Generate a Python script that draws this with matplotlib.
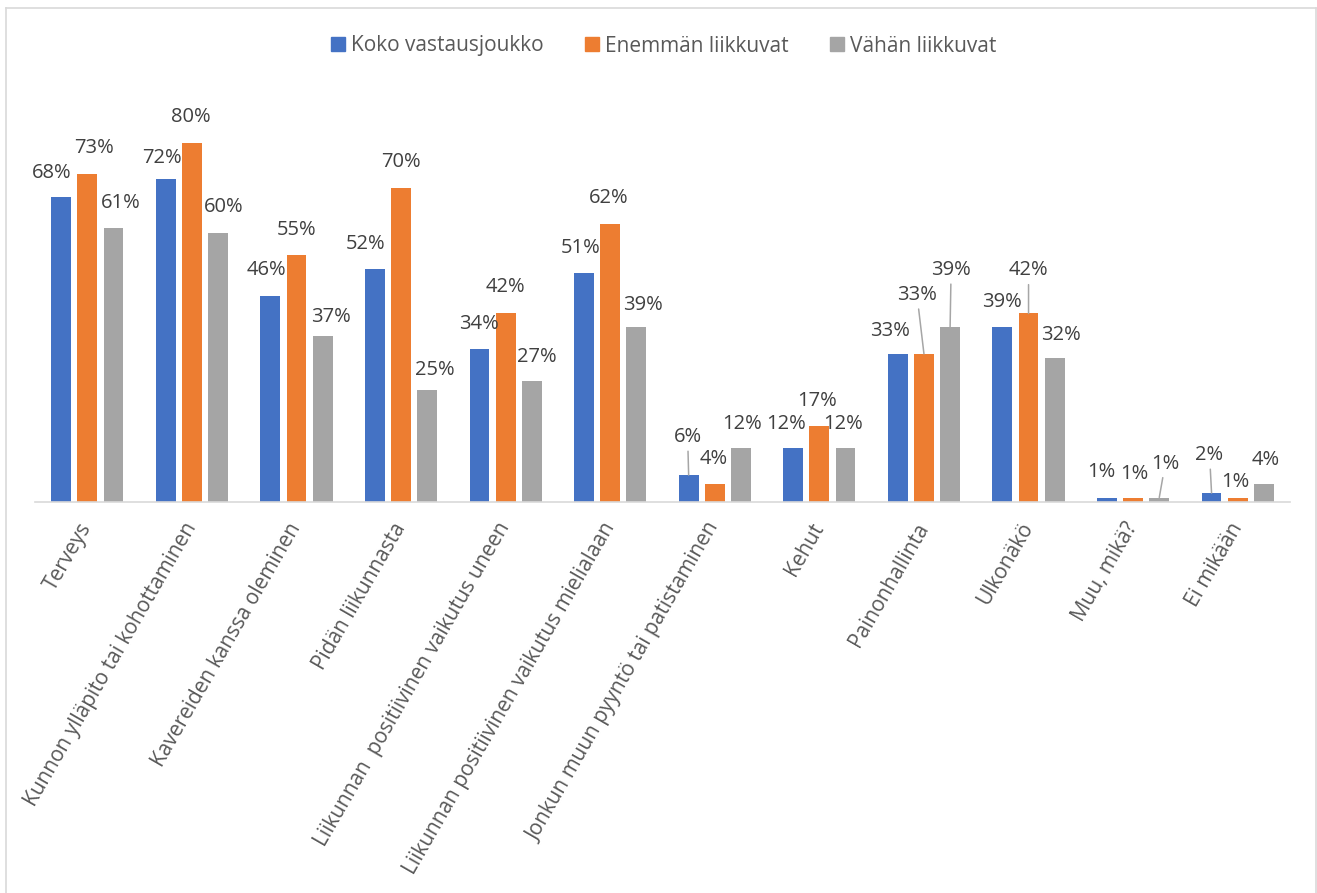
import matplotlib
matplotlib.use("Agg")
import matplotlib.pyplot as plt
import numpy as np
from matplotlib.lines import Line2D
from matplotlib.patches import Patch

categories = [
    "Terveys",
    "Kunnon ylläpito tai kohottaminen",
    "Kavereiden kanssa oleminen",
    "Pidän liikunnasta",
    "Liikunnan  positiivinen vaikutus uneen",
    "Liikunnan positiivinen vaikutus mielialaan",
    "Jonkun muun pyyntö tai patistaminen",
    "Kehut",
    "Painonhallinta",
    "Ulkonäkö",
    "Muu, mikä?",
    "Ei mikään",
]
series_names = ["Koko vastausjoukko", "Enemmän liikkuvat", "Vähän liikkuvat"]
koko = [68, 72, 46, 52, 34, 51, 6, 12, 33, 39, 1, 2]
enemman = [73, 80, 55, 70, 42, 62, 4, 17, 33, 42, 1, 1]
vahan = [61, 60, 37, 25, 27, 39, 12, 12, 39, 32, 1, 4]

COLORS = ["#4472C4", "#ED7D31", "#A5A5A5"]
TXT = "#595959"

# label placement (pixels from bar top centre), True = draw leader line
LABEL_POS = [
    [(-9, 24, False), (7, 26, False), (7, 25, False)],
    [(-4, 21, False), (-1, 26, False), (6, 26, False)],
    [(-4, 26, False), (0, 25, False), (8, 19, False)],
    [(-9, 25, False), (0, 26, False), (8, 20, False)],
    [(-1, 25, False), (0, 26, False), (5, 24, False)],
    [(-3, 25, False), (-2, 26, False), (7, 22, False)],
    [(-1, 38, True), (-1, 25, False), (1, 24, False)],
    [(-7, 24, False), (-2, 25, False), (-2, 24, False)],
    [(-8, 23, False), (-7, 59, True), (1, 57, True)],
    [(0, 25, False), (0, 43, True), (6, 23, False)],
    [(-6, 26, False), (1, 24, False), (6, 34, True)],
    [(-2, 38, True), (-2, 16, False), (2, 24, False)],
]

plt.rcParams["font.family"] = ["Open Sans", "DejaVu Sans"]

W, H = 1317, 893
fig = plt.figure(figsize=(W / 100, H / 100), dpi=100)
ax = fig.add_axes([35 / W, (H - 502) / H, (1290 - 35) / W, (502 - 98) / H])

x = np.arange(len(categories))
width = 0.19
offs = [-0.25, 0.0, 0.25]
for k, vals in enumerate([koko, enemman, vahan]):
    xs = x + offs[k]
    ax.bar(xs, vals, width, color=COLORS[k], label=series_names[k], zorder=2)
    for i, v in enumerate(vals):
        dx, dy, leader = LABEL_POS[i][k]
        kw = {}
        if leader:
            kw["arrowprops"] = dict(arrowstyle="-", color="#A6A6A6", lw=1.1,
                                    shrinkA=1, shrinkB=0)
        ax.annotate(f"{v}%", (xs[i], v), xytext=(dx, dy),
                    textcoords="offset pixels", ha="center", va="center",
                    fontsize=14.5, color="#404040", **kw)

ax.set_xlim(-0.5, len(categories) - 0.5)
ax.set_ylim(0, 90)
ax.set_yticks([])
for s in ("top", "right", "left"):
    ax.spines[s].set_visible(False)
ax.spines["bottom"].set_color("#D9D9D9")
ax.spines["bottom"].set_linewidth(1.2)
ax.set_xticks(x)
ax.set_xticklabels(categories, rotation=60, ha="right", va="center",
                   rotation_mode="anchor", fontsize=15, color=TXT)
ax.tick_params(axis="x", length=0, pad=16)

handles = [Patch(color=c) for c in COLORS]
fig.legend(handles, series_names, loc="center", bbox_to_anchor=(664 / W, 1 - 46 / H),
           ncol=3, frameon=False, fontsize=15, labelcolor=TXT,
           handlelength=0.65, handleheight=0.65, handletextpad=0.3,
           columnspacing=2.0)

# chart border
for xs_, ys_ in (([6, 6], [8, H]), ([6, 1316], [8, 8]), ([1316, 1316], [8, H])):
    fig.add_artist(Line2D(np.array(xs_) / W, 1 - np.array(ys_) / H,
                          color="#D9D9D9", lw=1.2))

fig.savefig("out.png", dpi=100)
